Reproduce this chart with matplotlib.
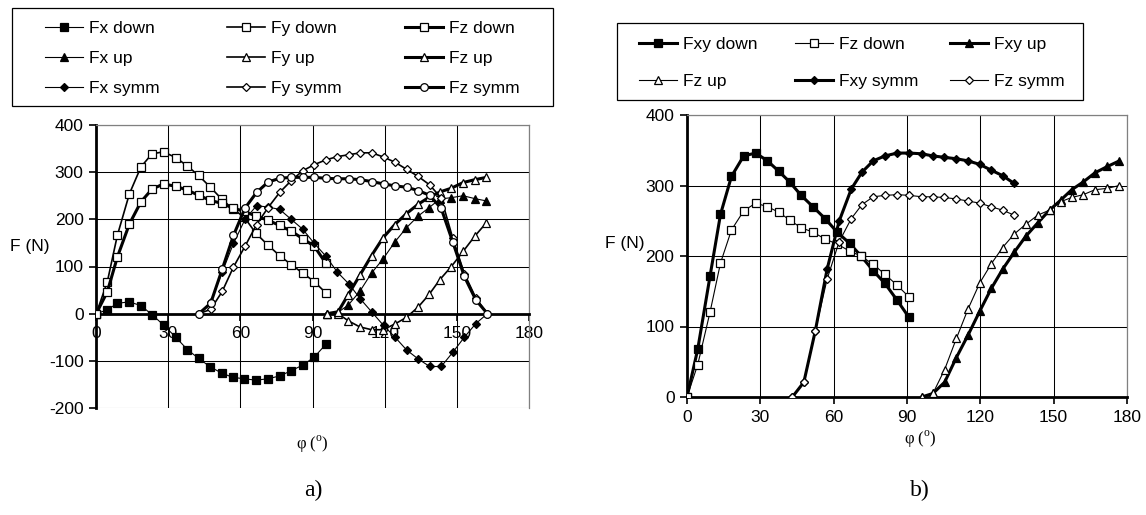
import matplotlib
matplotlib.use("Agg")
import matplotlib.pyplot as plt
from matplotlib.patches import Rectangle

plt.rcParams['font.family'] = ['Liberation Sans', 'DejaVu Sans']
plt.rcParams['mathtext.fontset'] = 'custom'
plt.rcParams['mathtext.rm'] = 'Liberation Serif'
plt.rcParams['axes.unicode_minus'] = False

# ---------------- panel a) : force components ----------------
phi_down = [0, 4.6, 8.8, 13.8, 18.6, 23.2, 28.0, 33.1, 37.9, 42.6, 47.5, 52.2, 56.8,
            61.5, 66.5, 71.5, 76.3, 81.1, 85.9, 90.7, 95.5]
fx_down = [0, 8, 22, 25, 17, -2, -24, -50, -76, -95, -113, -126, -135, -138, -141,
           -138, -132, -121, -109, -92, -65]
fy_down = [0, 67, 166, 254, 311, 339, 343, 331, 313, 293, 268, 243, 222, 205, 170,
           145, 123, 104, 86, 68, 44]
fz_down = [0, 46, 120, 190, 237, 264, 275, 270, 262, 251, 240, 234, 224, 217, 207,
           198, 187, 175, 159, 143, 107]

phi_up = [96, 100.6, 104.8, 109.6, 114.5, 119.3, 124.2, 129.0, 133.9, 138.5, 142.9,
          147.7, 152.6, 157.4, 162.3]
fx_up = [0, 3, 18, 47, 86, 116, 152, 182, 207, 225, 243, 246, 250, 244, 239]
fy_up = [0, 0, -15, -28, -34, -34, -22, -8, 14, 41, 72, 100, 132, 164, 193]
fz_up = [0, 4, 40, 81, 123, 161, 189, 212, 232, 247, 258, 266, 278, 284, 289]

phi_symm = [42.7, 47.6, 52.4, 57.1, 61.9, 66.7, 71.5, 76.3, 81.1, 85.9, 90.7, 95.5,
            100.3, 105.1, 109.9, 114.7, 119.5, 124.3, 129.1, 133.9, 138.7, 143.5,
            148.3, 153.1, 157.9, 162.7]
fx_symm = [0, 25, 88, 149, 200, 229, 226, 221, 200, 179, 149, 122, 88, 63, 31, 3,
           -25, -50, -77, -96, -112, -112, -82, -50, -21, 0]
fy_symm = [0, 9, 47, 99, 143, 189, 225, 257, 282, 303, 316, 326, 333, 337, 341, 341,
           332, 321, 306, 291, 273, 245, 160, 85, 33, 0]
fz_symm = [0, 22, 94, 166, 224, 257, 279, 287, 289, 289, 289, 287, 286, 286, 284,
           280, 275, 271, 268, 261, 251, 223, 152, 79, 29, 0]

# ---------------- panel b) : in-plane resultant vs. Fz ----------------
phi_down_b = [0, 4.4, 9.4, 13.7, 18.2, 23.2, 28.1, 32.9, 37.6, 42.0, 46.7, 51.5,
              56.5, 61.4, 66.5, 71.2, 76.2, 81.0, 85.8, 90.8]
fxy_down = [0, 68, 171, 259, 313, 342, 346, 335, 320, 305, 286, 270, 253, 234, 218,
            200, 179, 161, 138, 113]
fz_down_b = [0, 46, 120, 190, 237, 264, 275, 270, 262, 251, 240, 234, 224, 217, 207,
             200, 188, 174, 159, 142]

phi_up_b = [96, 100.6, 105.4, 110.2, 115.0, 119.8, 124.5, 129.1, 133.8, 138.6, 143.5,
            148.3, 152.8, 157.4, 162.1, 166.9, 172.0, 176.9]
fxy_up = [0, 5, 21, 56, 88, 122, 154, 181, 205, 228, 247, 265, 279, 294, 305, 318,
          327, 335]
fz_up_b = [0, 5, 39, 83, 125, 162, 189, 212, 231, 245, 258, 265, 277, 283, 287, 294,
           296, 300]

phi_symm_b = [43.1, 47.8, 52.5, 57.3, 62.2, 67.2, 71.6, 76.2, 81.0, 86.0, 91.0, 96.0,
              100.5, 105.2, 110.0, 114.9, 119.7, 124.3, 129.1, 133.8]
fxy_symm = [0, 21, 94, 181, 249, 295, 319, 335, 342, 346, 346, 345, 342, 340, 338,
            335, 330, 322, 314, 303]
fz_symm_b = [0, 21, 94, 167, 220, 253, 273, 284, 286, 287, 286, 284, 284, 283, 281,
             278, 275, 270, 265, 258]

x_ticks = [0, 30, 60, 90, 120, 150, 180]

THIN, MED, THICK = 0.8, 1.2, 2.2
FS = 12.5
FILLED, OPEN = 'black', 'white'

fig = plt.figure(figsize=(11.46, 5.15), dpi=100)
W, H = 1146, 515


def axes_px(x0, y0, x1, y1):
    return fig.add_axes([x0 / W, 1 - y1 / H, (x1 - x0) / W, (y1 - y0) / H])


def style_axes(ax):
    ax.set_xlim(0, 180)
    ax.set_xticks(x_ticks)
    ax.grid(True, color='black', linewidth=0.75, zorder=0)
    ax.set_axisbelow(True)
    for s in ('top', 'right'):
        ax.spines[s].set_color('#808080')
        ax.spines[s].set_linewidth(0.9)
    ax.spines['left'].set_linewidth(2.0)
    ax.spines['bottom'].set_linewidth(2.0)
    ax.tick_params(axis='both', direction='out', length=5, width=1.2,
                   labelsize=FS, pad=4)


def series(ax, x, y, marker, face, lw, ms, label):
    ln, = ax.plot(x, y, color='black', lw=lw, marker=marker, ms=ms,
                  markerfacecolor=face, markeredgecolor='black',
                  markeredgewidth=0.9, label=label, zorder=3)
    return ln


def legend_box(x0, y0, x1, y1):
    fig.add_artist(Rectangle((x0 / W, 1 - y1 / H), (x1 - x0) / W, (y1 - y0) / H,
                             transform=fig.transFigure, fill=False,
                             edgecolor='black', linewidth=0.9))


def legend_column(handles, labels, x_left, y_top, spacing):
    fig.legend(handles, labels, loc='upper left',
               bbox_to_anchor=(x_left / W, 1 - y_top / H), borderaxespad=0,
               borderpad=0, frameon=False, fontsize=FS, handlelength=2.2,
               handletextpad=0.35, labelspacing=spacing)


# ---- panel a)
axa = axes_px(96.2, 125, 529, 408)
style_axes(axa)
axa.set_ylim(-200, 400)
axa.set_yticks([-200, -100, 0, 100, 200, 300, 400])
axa.spines['bottom'].set_position(('data', 0))

ha = {}
ha['Fx down'] = series(axa, phi_down, fx_down, 's', FILLED, THIN, 5.5, 'Fx down')
ha['Fy down'] = series(axa, phi_down, fy_down, 's', OPEN, MED, 5.5, 'Fy down')
ha['Fz down'] = series(axa, phi_down, fz_down, 's', OPEN, THICK, 5.5, 'Fz down')
ha['Fx up'] = series(axa, phi_up, fx_up, '^', FILLED, THIN, 6.0, 'Fx up')
ha['Fy up'] = series(axa, phi_up, fy_up, '^', OPEN, MED, 6.0, 'Fy up')
ha['Fz up'] = series(axa, phi_up, fz_up, '^', OPEN, THICK, 6.0, 'Fz up')
ha['Fx symm'] = series(axa, phi_symm, fx_symm, 'D', FILLED, THIN, 4.5, 'Fx symm')
ha['Fy symm'] = series(axa, phi_symm, fy_symm, 'D', OPEN, MED, 4.5, 'Fy symm')
ha['Fz symm'] = series(axa, phi_symm, fz_symm, 'o', OPEN, THICK, 5.5, 'Fz symm')

axa.set_ylabel('F (N)', rotation=0, fontsize=FS, va='center', ha='center')
axa.yaxis.set_label_coords(-0.153, 0.572)
axa.set_xlabel(r'φ ($^{\mathrm{o}}$)', fontsize=12, family='Liberation Serif',
               va='center')
axa.xaxis.set_label_coords(0.5, -0.13)

legend_box(12, 8, 553, 106)
cols_a = [['Fx down', 'Fx up', 'Fx symm'],
          ['Fy down', 'Fy up', 'Fy symm'],
          ['Fz down', 'Fz up', 'Fz symm']]
for names, x_left in zip(cols_a, [45, 227, 405]):
    legend_column([ha[k] for k in names], names, x_left, 21, 0.86)

# ---- panel b)
axb = axes_px(687, 115, 1127, 397)
style_axes(axb)
axb.set_ylim(0, 400)
axb.set_yticks([0, 100, 200, 300, 400])

hb = {}
hb['Fxy down'] = series(axb, phi_down_b, fxy_down, 's', FILLED, THICK, 5.5, 'Fxy down')
hb['Fz down'] = series(axb, phi_down_b, fz_down_b, 's', OPEN, THIN, 5.5, 'Fz down')
hb['Fxy up'] = series(axb, phi_up_b, fxy_up, '^', FILLED, THICK, 6.0, 'Fxy up')
hb['Fz up'] = series(axb, phi_up_b, fz_up_b, '^', OPEN, THIN, 6.0, 'Fz up')
hb['Fxy symm'] = series(axb, phi_symm_b, fxy_symm, 'D', FILLED, THICK, 4.5, 'Fxy symm')
hb['Fz symm'] = series(axb, phi_symm_b, fz_symm_b, 'D', OPEN, THIN, 4.5, 'Fz symm')

axb.set_ylabel('F (N)', rotation=0, fontsize=FS, va='center', ha='center')
axb.yaxis.set_label_coords(-0.141, 0.546)
axb.set_xlabel(r'φ ($^{\mathrm{o}}$)', fontsize=12, family='Liberation Serif',
               va='center')
axb.xaxis.set_label_coords(0.53, -0.15)

legend_box(617, 23, 1083, 100)
cols_b = [['Fxy down', 'Fz up'], ['Fz down', 'Fxy symm'], ['Fxy up', 'Fz symm']]
for names, x_left in zip(cols_b, [639, 795, 950]):
    legend_column([hb[k] for k in names], names, x_left, 37, 1.25)

fig.text(313 / W, 1 - 490 / H, 'a)', ha='center', va='center', fontsize=17,
         family='Liberation Serif')
fig.text(920 / W, 1 - 490 / H, 'b)', ha='center', va='center', fontsize=17,
         family='Liberation Serif')

fig.savefig('out.png', dpi=100)
